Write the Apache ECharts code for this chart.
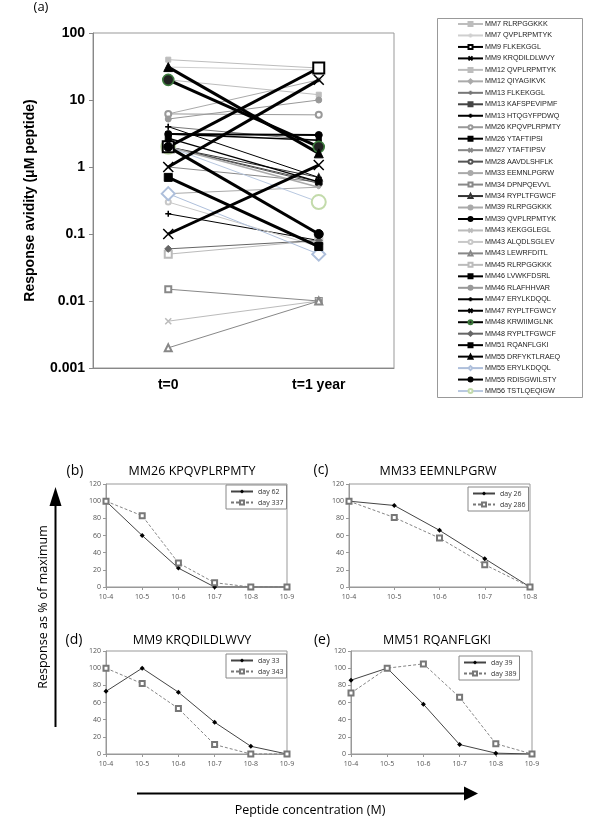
<!DOCTYPE html>
<html>
<head>
<meta charset="utf-8">
<script src="https://cdn.jsdelivr.net/npm/echarts@6/dist/echarts.min.js"></script>
<style>
  html, body { margin: 0; padding: 0; background: #fff; }
  #chart { width: 600px; height: 834px; }
</style>
</head>
<body>
<div id="chart"></div>
<script>
// ---- panel (a) data ----
const peptideNames = [
  'MM7 RLRPGGKKK', 'MM7 QVPLRPMTYK', 'MM9 FLKEKGGL', 'MM9 KRQDILDLWVY',
  'MM12 QVPLRPMTYK', 'MM12 QIYAGIKVK', 'MM13 FLKEKGGL', 'MM13 KAFSPEVIPMF',
  'MM13 HTQGYFPDWQ', 'MM26 KPQVPLRPMTY', 'MM26 YTAFTIPSI', 'MM27 YTAFTIPSV',
  'MM28 AAVDLSHFLK', 'MM33 EEMNLPGRW', 'MM34 DPNPQEVVL', 'MM34 RYPLTFGWCF',
  'MM39 RLRPGGKKK', 'MM39 QVPLRPMTYK', 'MM43 KEKGGLEGL', 'MM43 ALQDLSGLEV',
  'MM43 LEWRFDITL', 'MM45 RLRPGGKKK', 'MM46 LVWKFDSRL', 'MM46 RLAFHHVAR',
  'MM47 ERYLKDQQL', 'MM47 RYPLTFGWCY', 'MM48 KRWIIMGLNK', 'MM48 RYPLTFGWCF',
  'MM51 RQANFLGKI', 'MM55 DRFYKTLRAEQ', 'MM55 ERYLKDQQL', 'MM55 RDISGWILSTY',
  'MM56 TSTLQEQIGW'
]
const avidityT0 = [
  40, 31, 2, 1,
  20, 6.2, 4, 2,
  0.2, 6.2, 2.7, 1,
  2, 2, 0.015, 2,
  0.4, 3.1, 0.005, 0.3,
  0.002, 0.05, 3.1, 5.2,
  4, 0.1, 20, 0.06,
  0.7, 31, 0.4, 2,
  2
]
const avidityT1 = [
  30, 28, 30, 20,
  12, 20, 2.5, 0.6,
  0.08, 6, 0.6, 0.6,
  0.57, 0.5, 0.01, 0.7,
  0.5, 3, 0.01, 0.065,
  0.01, 0.08, 2.5, 10,
  0.7, 1.07, 2, 0.08,
  0.065, 1.6, 0.05, 0.1,
  0.3
]
const timeLabels = ['t=0', 't=1 year']

// ---- panels (b)-(e) data ----
const concLabels = ['10-4', '10-5', '10-6', '10-7', '10-8', '10-9']
const concLabelsC = ['10-4', '10-5', '10-6', '10-7', '10-8']
const mm26Day62 = [100, 60, 22, 0, 0, 0]
const mm26Day337 = [100, 83, 28, 5, 0, 0]
const mm33Day26 = [100, 95, 66, 33, 0]
const mm33Day286 = [100, 81, 57, 26, 0]
const mm9Day33 = [73, 100, 72, 37, 9, 0]
const mm9Day343 = [100, 82, 53, 11, 0, 0]
const mm51Day39 = [86, 100, 58, 11, 1, 0]
const mm51Day389 = [71, 100, 105, 66, 12, 0]

// ---- styles ----
const X = 'path://M0,0L10,10M10,0L0,10'
const PLUS = 'path://M5,0L5,10M0,5L10,5'
// [line colour, line width, symbol, symbol size, marker colour, marker border]
const peptideStyles = [
  ['#bdbdbd', 1, 'rect', 5],
  ['#cfcfcf', 1, PLUS, 5],
  ['#000', 3, 'emptyRect', 11],
  ['#000', 3, X, 10],
  ['#bdbdbd', 1, 'rect', 5],
  ['#aaa', 1, 'diamond', 5],
  ['#777', 1, PLUS, 6],
  ['#444', 1, 'rect', 6],
  ['#000', 1, PLUS, 6],
  ['#999', 1, 'emptyCircle', 6],
  ['#000', 1.5, 'rect', 6],
  ['#888', 1, X, 5],
  ['#555', 1, 'emptyCircle', 6],
  ['#aaa', 1.5, 'circle', 3],
  ['#888', 1, 'emptyRect', 6],
  ['#333', 1, 'emptyTriangle', 6],
  ['#aaa', 1, 'circle', 3],
  ['#000', 2, 'circle', 7],
  ['#bbb', 1, X, 6],
  ['#c8c8c8', 1, 'emptyCircle', 5],
  ['#888', 1, 'emptyTriangle', 7],
  ['#bbb', 1, 'emptyRect', 7],
  ['#000', 1.5, 'rect', 5],
  ['#999', 1, 'circle', 6],
  ['#000', 1, PLUS, 6],
  ['#000', 3, X, 10],
  ['#000', 3, 'circle', 11, '#222', '#3d7a3d'],
  ['#666', 1, 'diamond', 7],
  ['#000', 3, 'rect', 8],
  ['#000', 3, 'triangle', 9],
  ['#aebfdb', 1, 'emptyDiamond', 13],
  ['#000', 3, 'circle', 9],
  ['#b8c8e0', 1, 'emptyCircle', 14, '#c3dbab', '#c3dbab']
]

const boldLabel = { fontFamily: 'Liberation Sans', fontWeight: 'bold', fontSize: 14, color: '#000' }
const smallLabel = { fontFamily: 'Open Sans', fontSize: 7, color: '#555' }

const panelSeries = peptideNames.map((name, i) => {
  const [c, w, sym, size, mc, mb] = peptideStyles[i]
  const isPath = sym.startsWith('path://')
  return {
    name,
    type: 'line',
    xAxisIndex: 0,
    yAxisIndex: 0,
    data: [avidityT0[i], avidityT1[i]],
    symbol: sym,
    symbolSize: size,
    z: 2 + w,
    lineStyle: { color: c, width: w },
    itemStyle: {
      color: mc || c,
      borderColor: mb || c,
      borderWidth: mb ? 1.6 : (isPath ? 1.5 : 1),
    },
    emphasis: { disabled: true },
  }
})

function curve(name, data, ax, dashed) {
  return {
    name,
    type: 'line',
    xAxisIndex: ax,
    yAxisIndex: ax,
    data,
    symbol: dashed ? 'emptyRect' : 'diamond',
    symbolSize: 5,
    lineStyle: dashed ? { color: '#777', width: 0.9, type: [3, 2] } : { color: '#444', width: 1 },
    itemStyle: dashed ? { color: '#777', borderColor: '#777', borderWidth: 0.8 } : { color: '#000' },
    emphasis: { disabled: true },
  }
}

const smallGrids = [
  { left: 106, right: 313, top: 484, bottom: 247 },
  { left: 349, right: 70, top: 484, bottom: 247 },
  { left: 106, right: 313, top: 651, bottom: 80 },
  { left: 351, right: 68, top: 651, bottom: 80 },
]
const smallCats = [concLabels, concLabelsC, concLabels, concLabels]

const grids = [{ left: 93, right: 206, top: 33, bottom: 466, show: true, borderColor: '#999', borderWidth: 1 }]
  .concat(smallGrids.map(g => Object.assign({ show: true, borderColor: '#999', borderWidth: 1 }, g)))

const xAxes = [{
  type: 'category', gridIndex: 0, data: timeLabels, boundaryGap: true,
  axisLine: { lineStyle: { color: '#888' } },
  axisTick: { length: 4, lineStyle: { color: '#888' } },
  axisLabel: Object.assign({ margin: 10 }, boldLabel),
}].concat(smallCats.map((cats, i) => ({
  type: 'category', gridIndex: i + 1, data: cats, boundaryGap: false,
  axisLine: { lineStyle: { color: '#999' } },
  axisTick: { length: 3, lineStyle: { color: '#999' } },
  axisLabel: Object.assign({ margin: 6 }, smallLabel),
})))

const yAxes = [{
  type: 'log', gridIndex: 0, logBase: 10, min: 0.001, max: 100,
  name: 'Response avidity (μM peptide)', nameLocation: 'middle', nameGap: 56,
  nameTextStyle: boldLabel,
  axisLine: { show: true, lineStyle: { color: '#888' } },
  axisTick: { show: true, length: 4, lineStyle: { color: '#888' } },
  minorTick: { show: false },
  splitLine: { show: false },
  axisLabel: Object.assign({ margin: 8, formatter: v => String(+(+v).toPrecision(1)) }, boldLabel),
}].concat(smallGrids.map((g, i) => ({
  type: 'value', gridIndex: i + 1, min: 0, max: 120, interval: 20,
  axisLine: { show: true, lineStyle: { color: '#999' } },
  axisTick: { show: true, length: 3, lineStyle: { color: '#999' } },
  splitLine: { show: false },
  axisLabel: Object.assign({ margin: 5 }, smallLabel),
})))

function smallLegend(left, top, names) {
  return {
    orient: 'vertical', left, top, data: names,
    borderColor: '#888', borderWidth: 1, backgroundColor: '#fff',
    padding: [2, 3, 2, 4], itemWidth: 22, itemHeight: 5, itemGap: 2,
    textStyle: { fontFamily: 'Open Sans', fontSize: 7, color: '#333', lineHeight: 9 },
    selectedMode: false,
  }
}

function label(text, x, y, size, extra) {
  return Object.assign({
    type: 'text', x, y,
    style: {
      text, font: size + 'px "Open Sans"', fill: '#000',
      align: 'center', verticalAlign: 'middle',
      textAlign: 'center', textVerticalAlign: 'middle',
    },
  }, extra || {})
}

const chart = echarts.init(document.getElementById('chart'), null, { renderer: 'canvas' })
chart.setOption({
  animation: false,
  backgroundColor: '#fff',
  grid: grids,
  xAxis: xAxes,
  yAxis: yAxes,
  legend: [
    {
      orient: 'vertical', left: 457, top: 20.5, data: peptideNames,
      padding: 0, itemWidth: 25, itemHeight: 5, itemGap: 4.47,
      textStyle: { fontFamily: 'Liberation Sans', fontSize: 7.2, color: '#222', lineHeight: 7, padding: [0, 0, 0, -3] },
      selectedMode: false,
    },
    smallLegend(226, 485, ['day 62', 'day 337']),
    smallLegend(468, 487, ['day 26', 'day 286']),
    smallLegend(226, 654, ['day 33', 'day 343']),
    smallLegend(459, 656, ['day 39', 'day 389']),
  ],
  graphic: [
    { type: 'rect', shape: { x: 437.5, y: 18.5, width: 145, height: 379 }, style: { fill: 'none', stroke: '#999', lineWidth: 1 }, z: -1 },
    label('(a)', 41, 7, 13),
    label('(b)', 75, 471, 14),
    label('MM26 KPQVPLRPMTY', 192, 471, 12.5),
    label('(c)', 321, 470, 14),
    label('MM33 EEMNLPGRW', 438, 471, 12.5),
    label('(d)', 74, 640, 14),
    label('MM9 KRQDILDLWVY', 192, 640, 12.5),
    label('(e)', 322, 640, 14),
    label('MM51 RQANFLGKI', 437, 640, 12.5),
    label('Response as % of maximum', 43, 607, 12.5, { rotation: Math.PI / 2 }),
    label('Peptide concentration (M)', 310, 810, 12.5),
    { type: 'line', shape: { x1: 55.5, y1: 727, x2: 55.5, y2: 504 }, style: { stroke: '#000', lineWidth: 2 } },
    { type: 'polygon', shape: { points: [[49.5, 506], [61.5, 506], [55.5, 487]] }, style: { fill: '#000' } },
    { type: 'line', shape: { x1: 137, y1: 793.5, x2: 467, y2: 793.5 }, style: { stroke: '#000', lineWidth: 2 } },
    { type: 'polygon', shape: { points: [[464, 786.5], [464, 800.5], [478, 793.5]] }, style: { fill: '#000' } },
  ],
  series: panelSeries.concat([
    curve('day 62', mm26Day62, 1, false),
    curve('day 337', mm26Day337, 1, true),
    curve('day 26', mm33Day26, 2, false),
    curve('day 286', mm33Day286, 2, true),
    curve('day 33', mm9Day33, 3, false),
    curve('day 343', mm9Day343, 3, true),
    curve('day 39', mm51Day39, 4, false),
    curve('day 389', mm51Day389, 4, true),
  ]),
})
</script>
</body>
</html>
